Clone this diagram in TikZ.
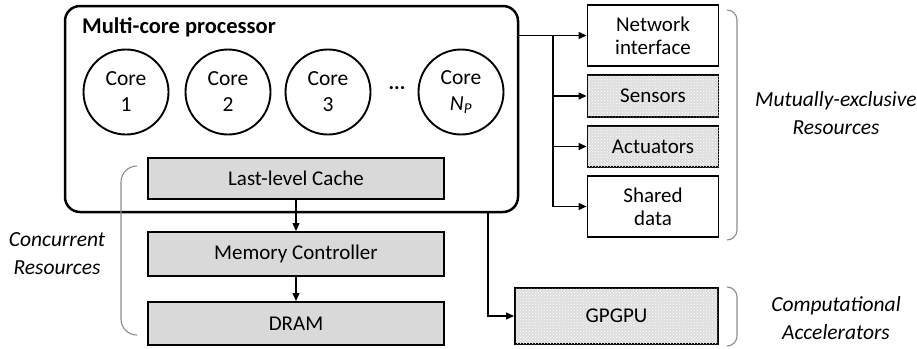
\documentclass[tikz,border=0pt]{standalone}
\usepackage{fontspec}
\setmainfont{Carlito}
\usetikzlibrary{arrows.meta,patterns}
\begin{document}
\begin{tikzpicture}[x=1pt,y=-1pt,
  font=\fontsize{21}{23}\selectfont,
  core/.style={draw,circle,line width=1.9pt,minimum size=85pt,inner sep=0pt,align=center,font=\fontsize{21.5}{26}\selectfont},
  resbox/.style={draw,line width=1.9pt,fill=black!15,minimum width=296pt,inner sep=0pt},
  devbox/.style={draw,line width=1.9pt,fill=white,minimum width=131pt,inner sep=0pt,align=center},
  hatched/.style={fill=black!13,postaction={pattern=crosshatch dots,pattern color=white}},
  arr/.style={line width=1.3pt,-{Triangle[length=8pt,width=7pt]}},
  brace/.style={draw=black!45,line width=1.1pt},
  lab/.style={font=\fontsize{21.5}{28}\selectfont\itshape,align=center}]
\useasboundingbox (0,0) rectangle (917,348);
% main processor box
\node[draw,line width=2.5pt,rounded corners=15pt,minimum width=453pt,minimum height=206pt,inner sep=0pt] (mcp) at (291.5,109) {};
\node[anchor=west,font=\fontsize{22.5}{24}\selectfont\bfseries,inner sep=0pt] (title) at (82,27) {Multi-core processor};
\node[core] (c1) at (126,92) {Core\\1};
\node[core] (c2) at (228,92) {Core\\2};
\node[core] (c3) at (328,92) {Core\\3};
\node[font=\fontsize{21}{23}\selectfont\bfseries,inner sep=0pt] (dots) at (397,88) {...};
\node[core] (cn) at (461,92) {Core\\{\itshape N}\textsubscript{\itshape P}};
% memory hierarchy
\node[resbox,minimum height=41pt] (llc) at (296,178.5) {Last-level Cache};
\node[resbox,minimum height=44pt] (mc) at (296,254) {Memory Controller};
\node[resbox,minimum height=43pt] (dram) at (296,323.5) {DRAM};
\draw[arr] (llc.south) -- (mc.north);
\draw[arr] (mc.south) -- (dram.north);
% devices
\node[devbox,minimum height=61pt] (net) at (653,35.5) {Network\\interface};
\node[devbox,hatched,minimum height=42pt] (sen) at (653,96) {Sensors};
\node[devbox,hatched,minimum height=41pt] (act) at (653,146.5) {Actuators};
\node[devbox,minimum height=61pt] (sha) at (653,206.5) {Shared\\data};
\node[devbox,hatched,minimum width=203pt,minimum height=56pt] (gpu) at (616.5,316) {GPGPU};
% connectors
\coordinate (br) at (553,35.5);
\coordinate (gx) at (488,0);
\draw[arr] (mcp.east |- net.west) -- (net.west);
\draw[line width=1.3pt] (br) -- (br |- sha.west);
\draw[arr] (br |- sen.west) -- (sen.west);
\draw[arr] (br |- act.west) -- (act.west);
\draw[arr] (br |- sha.west) -- (sha.west);
\draw[arr] (mcp.south -| gx) |- (gpu.west);
% braces
\draw[brace,rounded corners=16pt] (137,166) -- (121,166) -- (121,335) -- (137,335);
\draw[brace,rounded corners=10pt] (727,10) -- (737,10) -- (737,240) -- (727,240);
\draw[brace,rounded corners=10pt] (727,287) -- (737,287) -- (737,346) -- (727,346);
% labels
\node[lab] (conc) at (57,254) {Concurrent\\Resources};
\node[lab] (mutex) at (836,113) {Mutually-exclusive\\Resources};
\node[lab] (comp) at (836,318) {Computational\\Accelerators};
\end{tikzpicture}
\end{document}
